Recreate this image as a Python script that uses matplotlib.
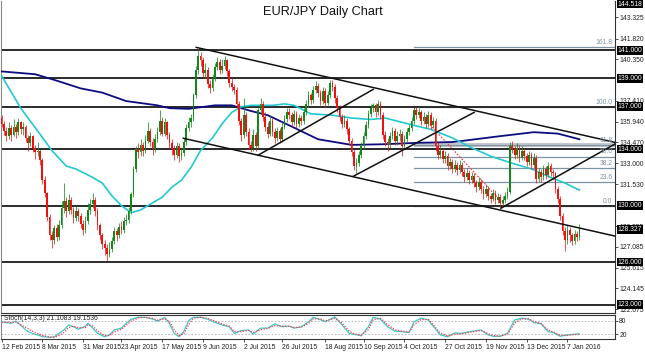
import matplotlib
matplotlib.use("Agg")
import matplotlib.pyplot as plt
import matplotlib.transforms as mtransforms
import numpy as np

plt.rcParams["font.family"] = ["Liberation Sans", "DejaVu Sans"]

# ---------------- data ----------------
title = "EUR/JPY Daily Chart"
first_open = 136.2
closes = [
    135.8, 135.3, 134.9, 135.5, 135.0, 135.6, 135.2, 135.9, 135.4, 135.6,
    134.8, 134.4, 134.9, 134.1, 133.8, 133.9, 133.2, 131.8, 130.9, 129.2,
    127.9, 127.6, 128.4, 127.8, 128.6, 129.8, 130.3, 129.6, 130.4, 129.7,
    129.1, 129.6, 129.3, 128.7, 128.3, 128.9, 129.7, 130.1, 130.4, 129.6,
    128.6, 127.9, 127.3, 127.0, 126.6, 126.9, 127.5, 128.2, 127.9, 128.5,
    128.3, 128.9, 129.0, 129.6, 130.8, 132.6, 134.0, 133.8, 134.3, 133.9,
    134.6, 135.3, 134.5, 134.0, 134.7, 135.2, 136.0, 135.1, 135.9, 135.0,
    134.4, 134.0, 133.6, 134.2, 133.5, 133.7, 134.5, 135.5, 135.9, 136.2,
    137.8, 139.6, 140.6, 140.3, 139.4, 139.6, 138.6, 138.3, 139.0, 139.8,
    140.2, 139.6, 139.9, 140.3, 139.5, 138.7, 138.4, 138.2, 137.2, 136.0,
    135.0, 136.4, 135.2, 134.3, 134.1, 135.0, 134.2, 136.8, 137.2, 136.3,
    135.6, 135.1, 136.0, 135.2, 134.8, 135.3, 134.7, 135.6, 136.1, 136.6,
    136.4, 135.9, 136.5, 135.8, 136.2, 136.0, 136.6, 137.2, 137.8, 137.5,
    138.2, 138.5, 138.0, 137.4, 138.1, 137.3, 137.8, 138.7, 138.4, 137.6,
    136.9, 136.3, 135.8, 136.0, 135.4, 134.6, 133.8, 132.8, 133.0, 133.6,
    134.2, 134.9, 135.7, 136.5, 136.9, 137.1, 136.6, 137.2, 136.4, 135.0,
    134.5, 134.3, 134.9, 135.3, 134.6, 134.9, 135.1, 134.2, 134.7, 135.2,
    135.5, 136.0, 136.8, 136.4, 136.6, 136.0, 136.3, 135.8, 136.4, 135.7,
    136.0, 134.2, 133.6, 133.9, 133.3, 133.5, 132.8, 133.1, 132.6, 132.9,
    132.5, 132.9, 132.4, 132.0, 132.3, 131.8, 132.1, 131.6, 131.3, 131.7,
    131.2, 130.8, 131.2, 130.7, 130.5, 130.9, 130.4, 130.6, 130.2, 130.4,
    130.7, 131.0, 134.2, 134.0, 133.6, 134.1, 133.4, 133.9, 133.5, 133.1,
    133.6, 132.9, 133.4, 131.9, 132.4, 132.0, 132.6, 132.2, 132.8, 132.4,
    132.3, 131.2, 130.5, 129.3, 128.2, 127.6, 128.3, 127.9, 127.5, 128.0,
    127.8, 128.33,
]
highs = [
    136.4, 136.0, 135.6, 135.9, 135.7, 136.1, 135.8, 136.2, 136.0, 135.9,
    135.7, 135.0, 135.2, 135.0, 134.3, 134.5, 134.0, 133.4, 132.1, 131.0,
    129.4, 128.2, 128.6, 128.7, 129.0, 130.3, 131.6, 130.6, 130.8, 130.6,
    129.9, 130.0, 129.8, 129.5, 129.0, 129.3, 130.2, 130.5, 130.9, 130.6,
    129.8, 128.8, 128.1, 127.6, 127.3, 127.4, 127.8, 128.5, 128.4, 128.8,
    128.9, 129.2, 129.4, 129.9, 131.0, 132.8, 134.2, 134.4, 134.7, 134.5,
    135.0, 135.9, 135.5, 134.8, 135.1, 135.6, 136.8, 136.3, 136.2, 136.0,
    135.2, 134.7, 134.3, 134.5, 134.4, 134.0, 134.8, 135.8, 136.3, 136.5,
    138.0, 139.9, 141.1, 140.9, 140.5, 140.1, 139.8, 138.9, 139.3, 140.1,
    140.5, 140.4, 140.4, 140.6, 140.4, 139.7, 139.0, 138.6, 138.4, 137.4,
    136.2, 137.6, 136.6, 135.5, 134.6, 135.4, 135.2, 137.0, 137.6, 137.4,
    136.6, 135.9, 136.4, 136.2, 135.5, 135.6, 135.5, 135.9, 136.4, 136.9,
    136.9, 136.6, 136.8, 136.7, 136.5, 136.4, 136.9, 137.5, 138.1, 138.0,
    138.5, 138.8, 138.7, 138.2, 138.4, 138.3, 138.1, 138.9, 138.9, 138.6,
    137.8, 137.1, 136.5, 136.4, 136.2, 135.6, 134.8, 134.0, 133.4, 133.9,
    134.5, 135.2, 136.0, 136.8, 137.2, 137.3, 137.3, 137.5, 137.4, 136.6,
    135.3, 134.8, 135.2, 135.6, 135.5, 135.3, 135.4, 135.3, 135.0, 135.5,
    135.8, 136.3, 137.0, 137.0, 136.9, 136.8, 136.6, 136.5, 136.7, 136.6,
    136.3, 136.2, 134.5, 134.3, 134.1, 133.9, 133.7, 133.4, 133.3, 133.2,
    133.1, 133.2, 133.1, 132.6, 132.7, 132.5, 132.4, 132.3, 131.8, 132.0,
    131.9, 131.4, 131.5, 131.4, 130.9, 131.2, 131.1, 130.9, 130.8, 130.7,
    131.0, 131.3, 134.5, 134.6, 134.2, 134.4, 134.3, 134.2, 134.1, 133.7,
    133.9, 133.8, 133.7, 133.6, 132.7, 132.6, 132.9, 132.8, 133.1, 133.0,
    132.6, 132.4, 131.4, 130.7, 129.5, 128.5, 128.6, 128.5, 128.1, 128.3,
    128.2, 128.7,
]
lows = [
    135.6, 135.0, 134.6, 134.7, 134.6, 134.9, 134.8, 135.0, 135.1, 135.0,
    134.5, 133.9, 134.2, 133.8, 133.3, 133.5, 132.9, 131.5, 130.6, 128.9,
    127.6, 127.0, 127.3, 127.5, 127.6, 128.4, 129.5, 129.2, 129.4, 129.4,
    128.8, 128.9, 128.9, 128.4, 127.9, 128.1, 128.7, 129.4, 129.8, 129.3,
    128.3, 127.6, 126.9, 126.5, 126.1, 126.4, 126.7, 127.3, 127.5, 127.7,
    128.0, 128.1, 128.6, 128.8, 129.4, 130.6, 132.4, 133.4, 133.5, 133.5,
    133.7, 134.4, 134.2, 133.6, 133.8, 134.5, 135.0, 134.9, 134.9, 134.7,
    134.1, 133.6, 133.2, 133.4, 133.1, 133.2, 133.5, 134.3, 135.3, 135.6,
    136.0, 137.6, 139.3, 139.9, 139.1, 139.0, 138.3, 138.0, 138.1, 138.8,
    139.6, 139.3, 139.4, 139.7, 139.2, 138.4, 138.1, 137.9, 136.9, 135.7,
    134.6, 134.8, 134.9, 134.0, 133.8, 133.9, 133.9, 134.0, 136.5, 136.0,
    135.3, 134.8, 134.9, 134.9, 134.4, 134.6, 134.4, 134.5, 135.4, 135.9,
    136.1, 135.6, 135.7, 135.5, 135.6, 135.7, 135.8, 136.4, 137.0, 137.2,
    137.3, 138.0, 137.7, 137.1, 137.2, 137.0, 137.1, 137.6, 138.1, 137.3,
    136.6, 136.0, 135.5, 135.6, 135.1, 134.3, 133.5, 132.5, 132.3, 132.8,
    133.4, 134.0, 134.7, 135.5, 136.3, 136.6, 136.3, 136.4, 136.1, 134.7,
    134.2, 133.9, 134.1, 134.7, 134.3, 134.3, 134.6, 133.5, 134.0, 134.5,
    135.0, 135.3, 135.8, 136.1, 136.2, 135.7, 135.8, 135.5, 135.6, 135.4,
    135.5, 133.9, 133.3, 133.4, 133.0, 133.0, 132.5, 132.6, 132.3, 132.4,
    132.2, 132.3, 132.1, 131.7, 131.8, 131.5, 131.6, 131.3, 131.0, 131.1,
    130.9, 130.5, 130.6, 130.4, 130.2, 130.3, 130.1, 130.2, 129.8, 130.0,
    130.2, 130.5, 130.8, 133.7, 133.3, 133.4, 133.1, 133.2, 133.2, 132.8,
    132.9, 132.6, 132.7, 131.6, 131.7, 131.7, 131.8, 131.9, 132.0, 132.1,
    131.9, 130.9, 130.2, 129.0, 127.9, 126.8, 127.3, 127.4, 127.2, 127.3,
    127.5, 127.6,
]

# moving averages (bar index, value)
ma50_bars = [0, 8, 15, 21, 27, 31, 38, 42, 46, 50, 54, 58, 63, 67, 71, 75, 79,
             83, 88, 92, 96, 100, 104, 113, 118, 122, 129, 138, 146, 154, 160,
             167, 174, 179, 188, 196, 204, 213, 221, 229, 235, 241]
ma50_vals = [139.2, 136.9, 135.3, 133.9, 132.8, 132.6, 132.0, 131.6, 130.7,
             130.0, 129.5, 129.7, 130.2, 130.6, 131.3, 131.8, 132.7, 133.9,
             134.8, 135.8, 136.6, 137.0, 137.1, 137.1, 137.2, 137.1, 136.5,
             136.4, 136.2, 136.1, 136.2, 135.9, 135.6, 135.4, 134.8, 134.1,
             133.5, 133.0, 132.6, 132.0, 131.6, 131.1]
ma200_bars = [0, 14, 22, 33, 42, 52, 65, 70, 78, 89, 96, 101, 104, 111, 121,
              132, 146, 160, 174, 188, 193, 207, 222, 232, 241]
ma200_vals = [139.5, 139.3, 138.9, 138.3, 138.0, 137.4, 137.1, 136.9, 136.85,
              137.1, 137.1, 136.85, 136.7, 136.4, 135.6, 134.7, 134.3, 134.35,
              134.45, 134.5, 134.6, 134.9, 135.2, 135.1, 134.7]

# horizontal support / resistance levels
levels = [141.0, 139.0, 137.0, 134.0, 130.0, 126.0, 123.0]
# trend lines: ((bar, price), (bar, price))
trend_lines = [
    ((81.2, 141.2), (256.3, 134.46)),
    ((75.8, 134.77), (256.3, 127.83)),
    ((107.0, 133.57), (155.0, 138.23)),
    ((146.7, 132.08), (197.1, 136.60)),
    ((208.3, 129.82), (256.3, 134.41)),
]
# Fibonacci retracement
fib_start_bar = 172
fib_low, fib_high = 130.0, 136.95
fib_pcts = [161.8, 100.0, 61.8, 50.0, 38.2, 23.6, 0.0]
fib_diag = ((172, 136.95), (210, 130.0))

price_ticks = [143.325, 141.820, 140.350, 137.410, 135.940, 134.470, 133.000,
               131.530, 128.555, 127.085, 125.615, 124.145, 122.675]
boxed_prices = [144.518, 141.000, 139.000, 137.000, 134.000, 130.000, 128.327,
                126.000, 123.000]

date_ticks = [0, 17, 34, 50, 67, 84, 101, 117, 135, 151, 168, 185, 202, 219, 236]
date_labels = ["12 Feb 2015", "8 Mar 2015", "31 Mar 2015", "23 Apr 2015",
               "17 May 2015", "9 Jun 2015", "2 Jul 2015", "26 Jul 2015",
               "18 Aug 2015", "10 Sep 2015", "4 Oct 2015", "27 Oct 2015",
               "19 Nov 2015", "13 Dec 2015", "7 Jan 2016"]

stoch_bars = [0, 4, 6, 11, 14, 17, 20, 22, 24, 26,
              28, 30, 32, 35, 36, 38, 40, 43, 45, 47,
              50, 52, 54, 57, 60, 63, 65, 68, 70, 72,
              74, 76, 78, 80, 83, 86, 89, 92, 95, 97,
              100, 103, 105, 108, 111, 114, 117, 120, 122, 125,
              128, 130, 133, 135, 139, 142, 145, 147, 150, 153,
              155, 158, 161, 164, 167, 170, 172, 175, 178, 180,
              183, 186, 189, 192, 195, 197, 200, 203, 205, 208,
              211, 214, 217, 220, 222, 225, 228, 230, 233, 236,
              239, 241]
stoch_k = [75, 68, 78, 31, 20, 10, 6, 8, 24, 39,
           61, 53, 42, 56, 68, 47, 24, 9, 17, 39,
           47, 68, 86, 95, 95, 87, 78, 94, 68, 24,
           9, 31, 80, 95, 95, 86, 72, 61, 53, 24,
           36, 39, 20, 47, 47, 66, 53, 56, 47, 53,
           75, 95, 84, 75, 97, 61, 24, 20, 13, 53,
           95, 87, 53, 34, 31, 28, 75, 91, 83, 56,
           17, 9, 26, 24, 31, 34, 39, 17, 11, 11,
           24, 83, 91, 86, 72, 66, 31, 28, 11, 17,
           20, 21.1083]
stoch_d = [73, 72, 74, 45, 27, 15, 8, 7, 14, 28,
           50, 56, 48, 50, 62, 56, 34, 14, 14, 30,
           42, 60, 78, 92, 95, 90, 82, 88, 78, 40,
           14, 22, 62, 90, 95, 90, 78, 65, 56, 32,
           32, 37, 28, 40, 46, 58, 56, 55, 50, 51,
           68, 88, 88, 79, 90, 70, 34, 22, 16, 40,
           85, 90, 62, 40, 33, 30, 62, 85, 85, 62,
           25, 12, 20, 22, 28, 32, 37, 22, 14, 12,
           20, 70, 88, 88, 76, 68, 38, 30, 15, 15,
           19, 19.1536]
stoch_text = "Stoch(14,3,3) 21.1083 19.1536"

# ---------------- figure ----------------
W, H = 645, 352
fig = plt.figure(figsize=(W / 100, H / 100), dpi=100)
fig.patch.set_facecolor("white")
ax = fig.add_axes([0.6 / W, (H - 312.5) / H, 614.4 / W, 312.0 / H])
sx = fig.add_axes([0.6 / W, (H - 339.0) / H, 614.4 / W, 24.0 / H])

XMIN, XMAX = -0.4, 255.85
FS = 4.85

closes_a = np.array(closes)
opens_a = np.concatenate([[first_open], closes_a[:-1]])
highs_a = np.maximum(np.array(highs), np.maximum(opens_a, closes_a))
lows_a = np.minimum(np.array(lows), np.minimum(opens_a, closes_a))
idx = np.arange(len(closes_a))
up = closes_a >= opens_a
col = np.where(up, "#11891a", "#f01010")

# horizontal levels
for lv in levels:
    ax.axhline(lv, color="#2a2a2a", lw=1.4, zorder=2)

# fibonacci
fib_color = "#7d93a2"
for p in fib_pcts:
    lvl = fib_low + (fib_high - fib_low) * p / 100.0
    if p == 61.8:
        ax.plot([fib_start_bar, XMAX], [lvl, lvl], color="#c4c8cc", lw=3.0,
                zorder=1.5, solid_capstyle="butt")
    ax.plot([fib_start_bar, XMAX], [lvl, lvl], color=fib_color, lw=0.9, zorder=1.6)
    lab = f"{p:.1f}"
    ax.text(254.8, lvl + 0.08, lab, color=fib_color, fontsize=FS,
            ha="right", va="bottom", zorder=6)
(dx0, dy0), (dx1, dy1) = fib_diag
ax.plot([dx0, dx1], [dy0, dy1], color="#ff3030", lw=0.8, ls=(0, (1.5, 1.5)), zorder=1.7)

# moving averages
ax.plot(ma200_bars, ma200_vals, color="#0c0c80", lw=1.3, zorder=3)
ax.plot(ma50_bars, ma50_vals, color="#22c8d2", lw=1.2, zorder=3)

# candles
ax.vlines(idx, lows_a, highs_a, colors=col, lw=0.7, zorder=4, alpha=0.75)
body_h = np.where(np.abs(closes_a - opens_a) < 0.06, 0.06, closes_a - opens_a)
ax.bar(idx, body_h, bottom=opens_a, width=0.72, color=col, linewidth=0, zorder=4.5)

# trend lines
for (a, b) in trend_lines:
    ax.plot([a[0], b[0]], [a[1], b[1]], color="#111111", lw=1.1, zorder=5)

ax.set_xlim(XMIN, XMAX)
ax.set_ylim(122.44, 144.518)
ax.set_xticks([])
ax.yaxis.tick_right()
ax.set_yticks(price_ticks)
ax.set_yticklabels([f"{v:.3f}" for v in price_ticks])
ax.tick_params(axis="y", direction="out", length=2.0, width=0.6, pad=1.0,
               labelsize=FS, colors="#333333", labelcolor="#222222")
for s in ax.spines.values():
    s.set_color("#333333")
    s.set_linewidth(0.8)
ax.spines["left"].set_color("#888888")
ax.spines["top"].set_visible(False)

trans = mtransforms.blended_transform_factory(ax.transAxes, ax.transData)
for bp in boxed_prices:
    va = "top" if bp == boxed_prices[0] else "center"
    ax.text(1.0 + 2.6 / 614.4, bp, f"{bp:.3f}", transform=trans, fontsize=FS,
            color="white", ha="left", va=va, zorder=10, clip_on=False,
            bbox=dict(boxstyle="square,pad=0.12", fc="black", ec="black", lw=0))

fig.text(0.5, 1 - 12.5 / H, title, ha="center", va="center", fontsize=9.2,
         color="#111111")

# stochastic panel
sx.set_xlim(XMIN, XMAX)
sx.set_ylim(-1, 105)
for lv in (80, 20):
    sx.axhline(lv, color="#b0b0b0", lw=0.6, ls=(0, (2, 2)), zorder=1)
sx.plot(stoch_bars, stoch_k, color="#3cc8d0", lw=0.9, zorder=3)
sx.plot(stoch_bars, stoch_d, color="#ff3b3b", lw=0.9, ls=(0, (1, 1.2)), zorder=3)
sx.text(3.5 / 614.4, 0.98, stoch_text, transform=sx.transAxes, fontsize=FS,
        ha="left", va="top", color="#222222")
sx.yaxis.tick_right()
sx.set_yticks([80, 20])
sx.set_yticklabels(["80", "20"])
sx.tick_params(axis="y", direction="out", length=2.0, width=0.6, pad=1.0,
               labelsize=FS, colors="#333333", labelcolor="#222222")
sx.set_xticks(date_ticks)
sx.set_xticklabels(date_labels)
sx.tick_params(axis="x", direction="out", length=2.5, width=0.6, pad=1.0,
               labelsize=FS, colors="#333333", labelcolor="#222222")
for lab in sx.get_xticklabels():
    lab.set_horizontalalignment("left")
for s in sx.spines.values():
    s.set_color("#333333")
    s.set_linewidth(0.8)
sx.spines["left"].set_color("#888888")

fig.savefig("out.png", dpi=100, facecolor="white")
